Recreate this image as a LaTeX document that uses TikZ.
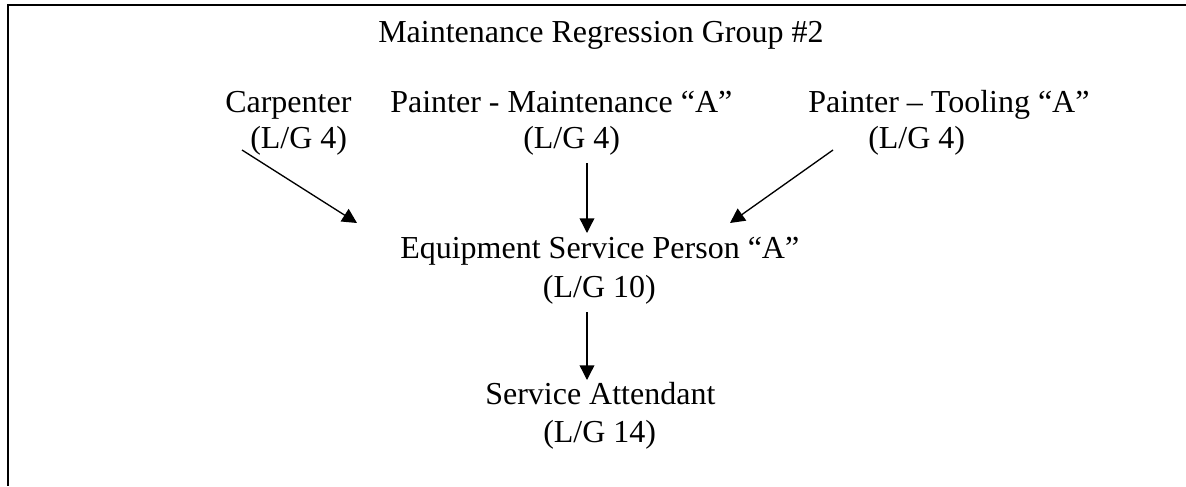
\documentclass[tikz,border=0pt]{standalone}
\usepackage{fontspec}
\setmainfont{Liberation Serif}
\usetikzlibrary{arrows.meta}

\begin{document}
\begin{tikzpicture}[
    x=0.75pt, y=-0.75pt,
    job/.style={anchor=base west, inner sep=0pt, align=left,
                font=\fontsize{24}{27}\selectfont},
    arr/.style={-{Triangle[length=11pt, width=11pt]}, line width=1pt},
    frame/.style={line width=1.5pt},
  ]
    \useasboundingbox (0,0) rectangle (1186,486);

    % open frame, top and left side
    \draw[frame] (1186,5) -- (8,5) -- (8,486);

    % title
    \node[job] (title) at (378,42) {Maintenance Regression Group \#2};

    % top row
    \node[job] (carp) at (225,148) {Carpenter\\\hspace*{18.75pt}(L/G 4)};
    \node[job] (paintm) at (390,148) {Painter - Maintenance “A”\\\hspace*{99.75pt}(L/G 4)};
    \node[job] (paintt) at (808,148) {Painter – Tooling “A”\\\hspace*{45pt}(L/G 4)};

    % middle and bottom
    \node[job, font=\fontsize{24}{29}\selectfont] (equip) at (400,297)
      {Equipment Service Person “A”\\\hspace*{107pt}(L/G 10)};
    \node[job, font=\fontsize{24}{28}\selectfont] (serv) at (485,442)
      {Service Attendant\\\hspace*{43.5pt}(L/G 14)};

    % arrows into the service person
    \draw[arr] ([shift={(17,2)}]carp.base west) -- ([shift={(-43,-74)}]equip.base west);
    \draw[arr] ([shift={(197,15)}]paintm.base west) -- ([shift={(187,-64)}]equip.base west);
    \draw[arr] ([shift={(25,2)}]paintt.base west) -- ([shift={(330,-74)}]equip.base west);

    % down to the attendant
    \draw[arr] ([shift={(187,15)}]equip.base west) -- ([shift={(102,-62)}]serv.base west);
\end{tikzpicture}
\end{document}
